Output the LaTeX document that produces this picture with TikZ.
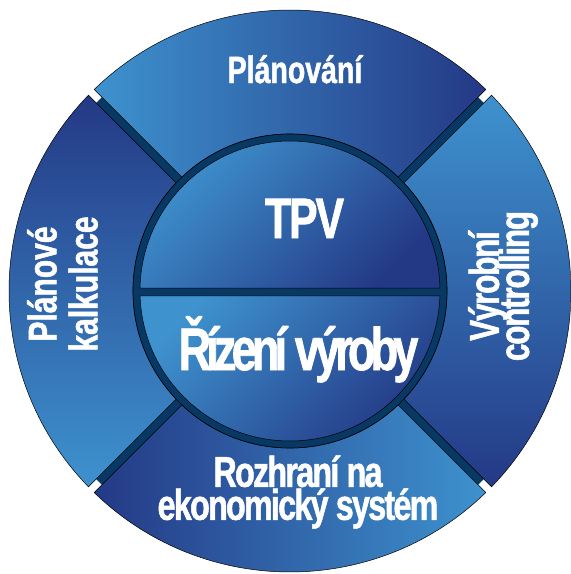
\documentclass[tikz,border=0pt]{standalone}
\usepackage{fontspec}
\usepackage{tikz}
\usetikzlibrary{calc}
\newfontfamily\segfont[FakeStretch=0.75, BoldFeatures={FakeBold=1.2}]{Liberation Sans}
\definecolor{segLight}{RGB}{62,146,206}
\definecolor{segDark}{RGB}{36,57,134}
\definecolor{barBlue}{RGB}{7,57,100}
\pgfmathsetmacro\dout{asin(4/281)}
\pgfmathsetmacro\din{asin(4/157)}
\def\ringseg[#1](#2:#3){\draw[#1] ({#2+\dout}:281pt) arc[start angle={#2+\dout}, end angle={#3-\dout}, radius=281pt] -- ({#3-\din}:157pt) arc[start angle={#3-\din}, end angle={#2+\din}, radius=157pt] -- cycle;}
\tikzset{seglabel/.style={text=white, inner sep=0pt, align=center}}

\begin{document}
\begin{tikzpicture}[x=1pt, y=1pt]
			%%%%% START %%%%%
			\useasboundingbox (-290, -283) rectangle (281, 291);
			\fill[barBlue] (0, 0) circle[radius=270pt];
			
			\ringseg[line width=0.5pt, left color=segLight, right color=segDark](45:135)
			\ringseg[line width=0.5pt, top color=segDark, bottom color=segLight](135:225)
			\ringseg[line width=0.5pt, left color=segDark, right color=segLight](225:315)
			\ringseg[line width=0.5pt, top color=segLight, bottom color=segDark](-45:45)
			
			\draw[fill=barBlue, line width=0.6pt] (0, 0) circle[radius=157pt];
			\draw[line width=0.5pt, top color=segLight, bottom color=segDark, shading angle=45] ({asin(3/150)}:150pt) arc[start angle={asin(3/150)}, end angle={180-asin(3/150)}, radius=150pt] -- cycle;
			\draw[line width=0.5pt, top color=segLight, bottom color=segDark, shading angle=45] ({-asin(5/150)}:150pt) arc[start angle={-asin(5/150)}, end angle={-180+asin(5/150)}, radius=150pt] -- cycle;
			
			\node[seglabel, anchor=base, font={\segfont\bfseries\fontsize{38}{38}\selectfont}] (plan) at (5, 208) {Plánování};
			\node[seglabel, anchor=base, font={\segfont\bfseries\fontsize{57}{57}\selectfont\addfontfeature{LetterSpace=-3.5}}] (tpv) at (14.5, 53) {TPV};
			\node[seglabel, anchor=base, font={\segfont\bfseries\fontsize{60}{60}\selectfont\addfontfeature{LetterSpace=-8}}] (rizeni) at (8.5, -79) {Řízení výroby};
			\node[seglabel, font={\segfont\bfseries\fontsize{43}{33}\selectfont\addfontfeature{LetterSpace=-4}\lineskiplimit=-50pt}] (rozhrani) at (8, -201) {Rozhraní na\\ekonomický systém};
			\node[seglabel, rotate=90, font={\segfont\bfseries\fontsize{40}{41}\selectfont\lineskiplimit=-50pt}] (kalk) at (-227.5, 7) {Plánové\\kalkulace};
			\node[seglabel, rotate=90, font={\segfont\bfseries\fontsize{42}{30}\selectfont\addfontfeature{LetterSpace=-3}\lineskiplimit=-50pt}] (contr) at (213, 5) {Výrobní\\controlling};
			%%%%% END %%%%%
\end{tikzpicture}
\end{document}
